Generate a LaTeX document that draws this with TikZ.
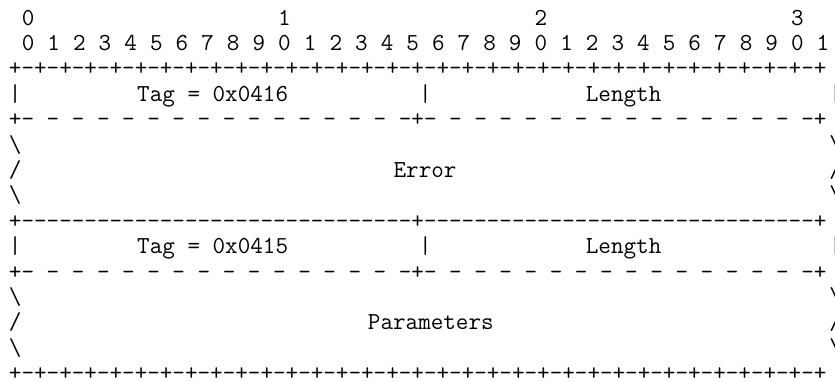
\documentclass[tikz,border=0pt]{standalone}
\usepackage{fontspec}
\tikzset{ascii/.style={font=\ttfamily\fontsize{24.42}{25.4}\selectfont,inner sep=0pt,anchor=base west}}
\begin{document}
\begin{tikzpicture}[x=12.82pt,y=-25.4pt]
\useasboundingbox (-8.8pt,25pt) rectangle (826.2pt,-356pt);
% bit numbers
\foreach \i in {0,...,3}
\node[ascii] (dec\i) at (20*\i+1,0) {\i};
\foreach \i in {0,...,31}{
\pgfmathtruncatemacro\d{mod(\i,10)}
\node[ascii] (bit\i) at (2*\i+1,1) {\d};}
% first TLV
\node[ascii] (topline) at (0,2) {+-+-+-+-+-+-+-+-+-+-+-+-+-+-+-+-+-+-+-+-+-+-+-+-+-+-+-+-+-+-+-+-+};
\node[ascii] (barA0) at (0,3) {|};
\node[ascii] (tagA) at (10,3) {Tag = 0x0416};
\node[ascii] (barA1) at (32,3) {|};
\node[ascii] (lenA) at (45,3) {Length};
\node[ascii] (barA2) at (64,3) {|};
\node[ascii] (sepA) at (0,4) {+- - - - - - - - - - - - - - - -+- - - - - - - - - - - - - - - -+};
\node[ascii] (edgeA0) at (0,5) {\textbackslash};
\node[ascii] (edgeA1) at (64,5) {\textbackslash};
\node[ascii] (edgeA2) at (0,6) {/};
\node[ascii] (error) at (30,6) {Error};
\node[ascii] (edgeA3) at (64,6) {/};
\node[ascii] (edgeA4) at (0,7) {\textbackslash};
\node[ascii] (edgeA5) at (64,7) {\textbackslash};
% second TLV
\node[ascii] (midline) at (0,8) {+-------------------------------+-------------------------------+};
\node[ascii] (barB0) at (0,9) {|};
\node[ascii] (tagB) at (10,9) {Tag = 0x0415};
\node[ascii] (barB1) at (32,9) {|};
\node[ascii] (lenB) at (45,9) {Length};
\node[ascii] (barB2) at (64,9) {|};
\node[ascii] (sepB) at (0,10) {+- - - - - - - - - - - - - - - -+- - - - - - - - - - - - - - - -+};
\node[ascii] (edgeB0) at (0,11) {\textbackslash};
\node[ascii] (edgeB1) at (64,11) {\textbackslash};
\node[ascii] (edgeB2) at (0,12) {/};
\node[ascii] (params) at (28,12) {Parameters};
\node[ascii] (edgeB3) at (64,12) {/};
\node[ascii] (edgeB4) at (0,13) {\textbackslash};
\node[ascii] (edgeB5) at (64,13) {\textbackslash};
\node[ascii] (botline) at (0,14) {+-+-+-+-+-+-+-+-+-+-+-+-+-+-+-+-+-+-+-+-+-+-+-+-+-+-+-+-+-+-+-+-+};
\end{tikzpicture}
\end{document}
